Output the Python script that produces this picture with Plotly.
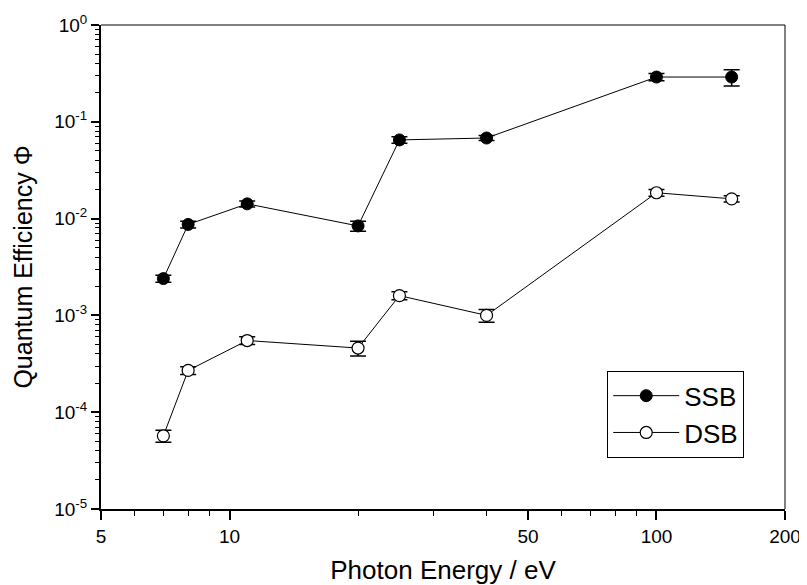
import plotly.graph_objects as go

energy = [7, 8, 11, 20, 25, 40, 100, 150]
ssb = [2.4e-3, 8.7e-3, 1.42e-2, 8.4e-3, 6.5e-2, 6.8e-2, 0.29, 0.29]
ssb_err = [0.2e-3, 0.7e-3, 0.1e-2, 1.0e-3, 0.5e-2, 0.4e-2, 0.025, 0.055]
dsb = [5.7e-5, 2.7e-4, 5.5e-4, 4.6e-4, 1.6e-3, 1.0e-3, 1.85e-2, 1.6e-2]
dsb_err = [0.8e-5, 0.25e-4, 0.5e-4, 0.8e-4, 0.15e-3, 0.15e-3, 0.15e-2, 0.12e-2]

x_ticks = [5, 10, 50, 100, 200]
x_ticklabels = ["5", "10", "50", "100", "200"]
x_minor = [6, 7, 8, 9, 20, 30, 40, 60, 70, 80, 90]
y_ticks = [1e-5, 1e-4, 1e-3, 1e-2, 1e-1, 1]
y_ticklabels = ["10<sup>-5</sup>", "10<sup>-4</sup>", "10<sup>-3</sup>",
                "10<sup>-2</sup>", "10<sup>-1</sup>", "10<sup>0</sup>"]

FONT = "Liberation Sans, Arial, Helvetica, sans-serif"

fig = go.Figure()
fig.add_trace(go.Scatter(
    x=energy, y=ssb, name="SSB", mode="lines+markers",
    line=dict(color="black", width=1),
    marker=dict(symbol="circle", size=12, color="black",
                line=dict(color="black", width=1)),
    error_y=dict(type="data", array=ssb_err, color="black", thickness=1.5, width=8),
))
fig.add_trace(go.Scatter(
    x=energy, y=dsb, name="DSB", mode="lines+markers",
    line=dict(color="black", width=1),
    marker=dict(symbol="circle", size=12, color="white",
                line=dict(color="black", width=1.2)),
    error_y=dict(type="data", array=dsb_err, color="black", thickness=1.5, width=8),
))

# page body has an 8px margin, so the figure is offset by 8px
fig.update_layout(
    width=799, height=577,
    margin=dict(l=93, r=22, t=17, b=76),
    paper_bgcolor="white", plot_bgcolor="white",
    font=dict(family=FONT, color="black", size=19),
    showlegend=True,
    legend=dict(
        x=0.7398, y=0.285, xanchor="left", yanchor="top",
        bordercolor="black", borderwidth=1.2, bgcolor="white",
        font=dict(size=26, family=FONT), itemwidth=66,
        tracegroupgap=0,
    ),
)
fig.update_xaxes(
    type="log", range=[0.69897, 2.30103], automargin=False,
    tickvals=x_ticks, ticktext=x_ticklabels,
    ticks="outside", ticklen=9, tickwidth=1.5, tickcolor="black",
    showline=True, linewidth=2, linecolor="black", mirror=False,
    showgrid=False, zeroline=False,
    tickfont=dict(size=19),
    minor=dict(tickvals=x_minor, ticks="outside", ticklen=5, tickwidth=1.2,
               tickcolor="black", showgrid=False),
    title=dict(text="Photon Energy / eV", font=dict(size=26), standoff=16),
)
fig.update_yaxes(
    type="log", range=[-5, 0], automargin=False,
    tickvals=y_ticks, ticktext=y_ticklabels,
    ticks="outside", ticklen=8, tickwidth=1.5, tickcolor="black",
    showline=True, linewidth=2, linecolor="black", mirror=False,
    showgrid=False, zeroline=False,
    tickfont=dict(size=19),
    minor=dict(dtick="D1", ticks="outside", ticklen=4, tickwidth=1.2,
               tickcolor="black", showgrid=False),
    title=dict(text="Quantum Efficiency Φ", font=dict(size=25), standoff=14),
)
fig.add_shape(type="line", xref="paper", yref="paper", x0=0, x1=1, y0=1, y1=1,
              line=dict(color="black", width=1))
fig.add_shape(type="line", xref="paper", yref="paper", x0=1, x1=1, y0=0, y1=1,
              line=dict(color="black", width=1))

fig.write_html("out.html")
